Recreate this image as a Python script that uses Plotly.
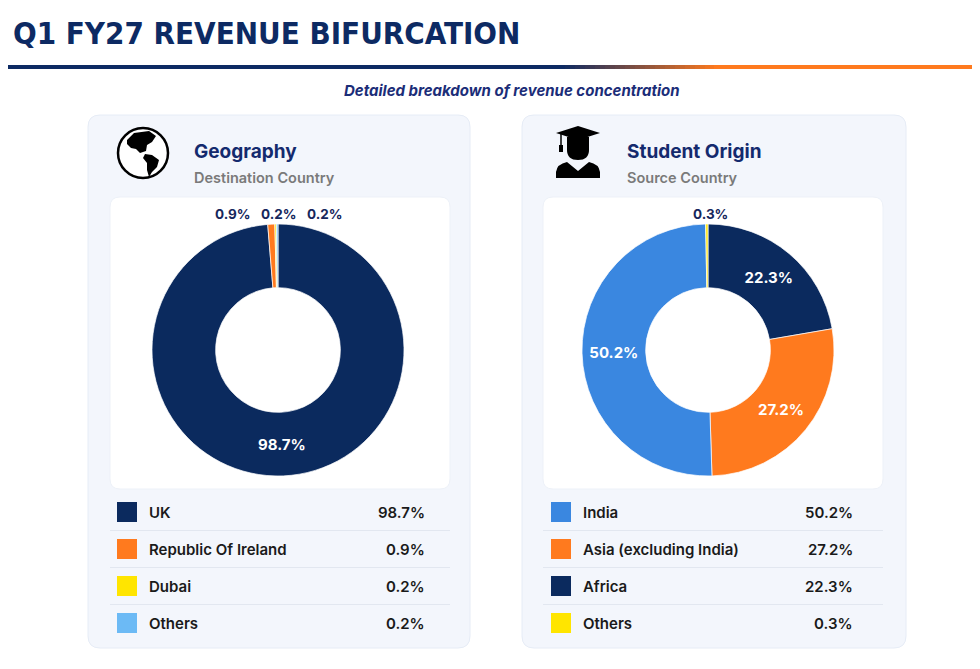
import math
import plotly.graph_objects as go

# pie order (clockwise from 12 o'clock)
geo_labels = ['UK', 'Republic Of Ireland', 'Dubai', 'Others']
geo_values = [98.7, 0.9, 0.2, 0.2]
geo_colors = ['#0b2a5e', '#ff7a1e', '#ffe500', '#6cbaf5']

origin_labels = ['Africa', 'Asia (excluding India)', 'India', 'Others']
origin_values = [22.3, 27.2, 50.2, 0.3]
origin_colors = ['#0b2a5e', '#ff7a1e', '#3a87e0', '#ffe500']

NAVY = '#0d2a63'
OFF = 8  # page body margin
W, H = 980 - OFF, 669 - OFF  # figure size, so it ends at the window edge
R, CY = 126, 350


def rrect(x0, y0, x1, y1, r):
    return (f'M {x0+r},{y0} L {x1-r},{y0} Q {x1},{y0} {x1},{y0+r} '
            f'L {x1},{y1-r} Q {x1},{y1} {x1-r},{y1} L {x0+r},{y1} '
            f'Q {x0},{y1} {x0},{y1-r} L {x0},{y0+r} Q {x0},{y0} {x0+r},{y0} Z')


def dom(cx, cy, r):
    cx -= OFF
    cy -= OFF
    return dict(x=[(cx - r) / W, (cx + r) / W], y=[1 - (cy + r) / H, 1 - (cy - r) / H])


def donut(labels, values, colors, cx):
    tmpl = ['%{value:.1f}%' if v > 5 else '' for v in values]
    return go.Pie(
        labels=labels, values=values, sort=False, direction='clockwise',
        rotation=0, hole=0.495, domain=dom(cx, CY, R),
        marker=dict(colors=colors, line=dict(color='white', width=0.7)),
        texttemplate=tmpl, textposition='inside',
        insidetextorientation='horizontal',
        insidetextfont=dict(color='white', size=15, family='Inter', weight=700),
        showlegend=False, hoverinfo='skip')


def small_labels(values, cx):
    # labels of thin slices, set in a row above the ring
    tot = sum(values)
    xs, txt = [], []
    cum = 0
    for v in values:
        if v <= 5:
            a = 2 * math.pi * (cum + v / 2) / tot
            xs.append(cx + R * math.sin(a))
            txt.append('%.1f%%' % v)
        cum += v
    mid = sum(xs) / len(xs) + 4
    gap = 45.5
    out = []
    for i, t in enumerate(txt):
        out.append(dict(x=mid + (i - (len(txt) - 1) / 2) * gap, y=CY - R - 10, text=t,
                        font=dict(family='Inter', size=13.5, color='#16275c', weight=700)))
    return out


fig = go.Figure()
fig.add_trace(donut(geo_labels, geo_values, geo_colors, 278))
fig.add_trace(donut(origin_labels, origin_values, origin_colors, 708))

shapes = []
ann = []

# title rule with orange fade on the right
shapes.append(dict(type='rect', x0=0, x1=562, y0=65, y1=69, fillcolor=NAVY, line_width=0))
n = 32
for i in range(n):
    t = i / (n - 1)
    c0 = (13, 42, 99)
    c1 = (255, 122, 30)
    col = 'rgb(%d,%d,%d)' % tuple(int(a + (b - a) * t) for a, b in zip(c0, c1))
    shapes.append(dict(type='rect', x0=560 + i * 5, x1=566 + i * 5, y0=65, y1=69,
                       fillcolor=col, line_width=0))
shapes.append(dict(type='rect', x0=714, x1=990, y0=65, y1=69, fillcolor='#ff7a1e', line_width=0))

ann.append(dict(x=11, y=33, text='<b>Q1 FY27 REVENUE BIFURCATION</b>', xanchor='left',
                font=dict(family='DejaVu Sans Condensed, DejaVu Sans', size=31, color=NAVY)))
ann.append(dict(x=512, y=90, text='<i>Detailed breakdown of revenue concentration</i>',
                font=dict(family='Inter', size=15, color='#1b2d78', weight=700)))

panels = [
    (88, 470, 110, 450, 'Geography', 'Destination Country', geo_labels, geo_values, geo_colors, 117, 427, 278),
    (522, 906, 543, 883, 'Student Origin', 'Source Country', origin_labels, origin_values, origin_colors, 551, 855, 708),
]
for x0, x1, ix0, ix1, head, sub, labels, values, colors, sq, vx, cx in panels:
    shapes.append(dict(type='path', path=rrect(x0, 115, x1, 648, 12),
                       fillcolor='#f3f6fc', line=dict(color='#e6ecf6', width=1), layer='below'))
    shapes.append(dict(type='path', path=rrect(ix0, 197, ix1, 489, 10),
                       fillcolor='white', line=dict(color='#edf1f8', width=1), layer='below'))
    ann.append(dict(x=ix0 + 82, y=151, text=head, xanchor='left',
                    font=dict(family='Inter', size=19, color='#142a6e', weight=700)))
    ann.append(dict(x=ix0 + 82, y=177, text=sub, xanchor='left',
                    font=dict(family='Inter', size=14.5, color='#7a7a7a', weight=600)))
    ann.extend(small_labels(values, cx))
    # table rows sorted by share
    order = sorted(range(len(values)), key=lambda k: -values[k])
    for row, k in enumerate(order):
        yc = 512 + row * 37
        shapes.append(dict(type='rect', x0=sq, x1=sq + 20, y0=yc - 10, y1=yc + 10,
                           fillcolor=colors[k], line_width=0))
        ann.append(dict(x=sq + 30, y=yc, text=labels[k], xanchor='left',
                        font=dict(family='Inter', size=15, color='#1a1a1a', weight=600)))
        ann.append(dict(x=vx, y=yc, text='%.1f%%' % values[k], xanchor='right',
                        font=dict(family='Inter', size=15, color='#1a1a1a', weight=600)))
        if row < len(values) - 1:
            shapes.append(dict(type='line', x0=ix0, x1=ix1, y0=yc + 18.5, y1=yc + 18.5,
                               line=dict(color='#e2e7f0', width=1)))

# globe icon
shapes.append(dict(type='circle', x0=118, x1=168, y0=128, y1=178,
                   line=dict(color='black', width=2.5), fillcolor='white'))
shapes.append(dict(type='path', path='M 127,140 L 134,133 L 149,131 L 156,136 L 152,142 L 147,145 '
                   'L 146,151 L 140,153 L 136,149 L 131,148 L 127,144 Z', fillcolor='black', line_width=0))
shapes.append(dict(type='path', path='M 145,154 L 152,155 L 159,160 L 157,167 L 152,172 L 149,177 '
                   'L 147,170 L 147,163 L 143,158 Z', fillcolor='black', line_width=0))
# graduate icon
shapes.append(dict(type='path', path='M 556,133 L 578,126 L 600,133 L 578,140 Z', fillcolor='black', line_width=0))
shapes.append(dict(type='line', x0=561, x1=561, y0=134, y1=147, line=dict(color='black', width=1.5)))
shapes.append(dict(type='rect', x0=559, x1=563, y0=145, y1=152, fillcolor='black', line_width=0))
shapes.append(dict(type='path', path='M 567,137 L 589,137 L 589,150 Q 589,160 578,160 Q 567,160 567,150 Z',
                   fillcolor='black', line_width=0))
shapes.append(dict(type='path', path='M 556,178 L 556,172 Q 557,164 567,162 L 578,171 L 589,162 '
                   'Q 599,164 600,172 L 600,178 Z', fillcolor='black', line_width=0))

for a in ann:
    a.update(xref='x', yref='y', showarrow=False, yanchor='middle')
for s in shapes:
    s.update(xref='x', yref='y')
    s.setdefault('layer', 'below')

fig.update_layout(
    width=W, height=H, margin=dict(l=0, r=0, t=0, b=0),
    paper_bgcolor='white', plot_bgcolor='rgba(0,0,0,0)',
    xaxis=dict(range=[OFF, W + OFF], visible=False, fixedrange=True),
    yaxis=dict(range=[H + OFF, OFF], visible=False, fixedrange=True),
    shapes=shapes, annotations=ann,
)

fig.write_html('out.html')
